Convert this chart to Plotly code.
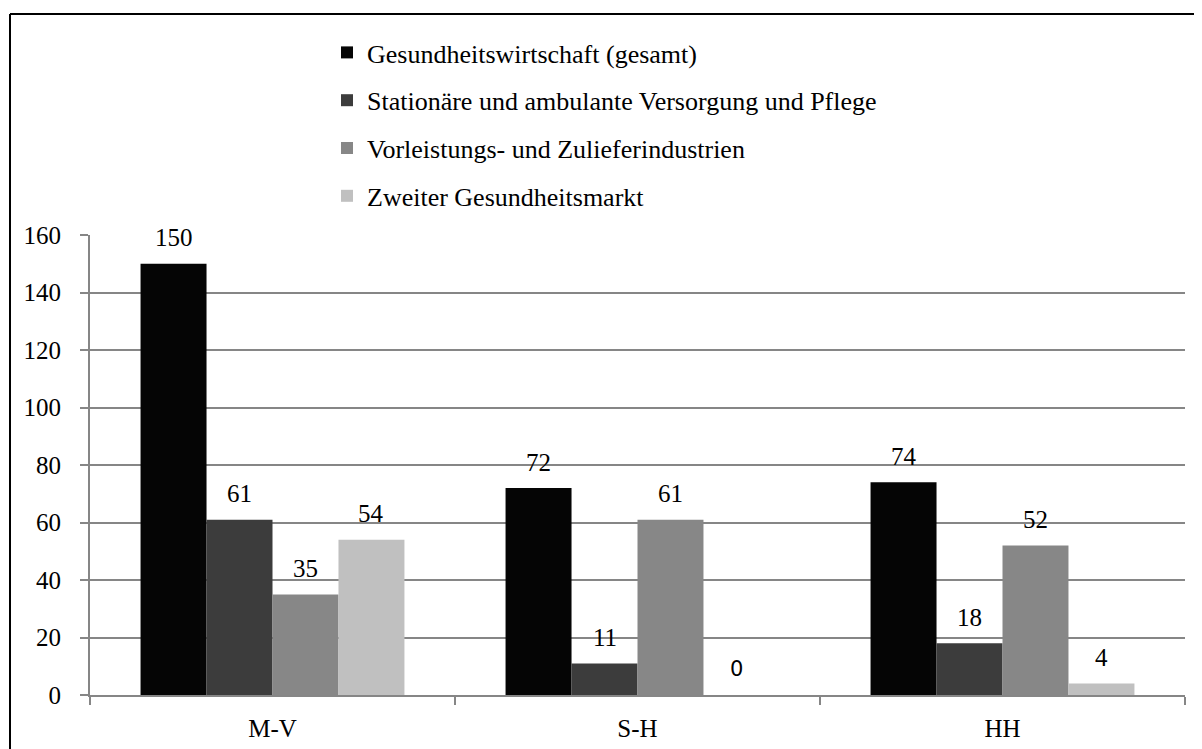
import plotly.graph_objects as go

categories = ["M-V", "S-H", "HH"]
series_names = [
    "Gesundheitswirtschaft (gesamt)",
    "Stationäre und ambulante Versorgung und Pflege",
    "Vorleistungs- und Zulieferindustrien",
    "Zweiter Gesundheitsmarkt",
]
gesamt = [150, 72, 74]
stationaer = [61, 11, 18]
vorleistung = [35, 61, 52]
zweiter = [54, 0, 4]
series_values = [gesamt, stationaer, vorleistung, zweiter]
y_ticks = [0, 20, 40, 60, 80, 100, 120, 140, 160]

colors = ["#050505", "#3c3c3c", "#878787", "#c0c0c0"]
SERIF = "Liberation Serif"
SANS = "DejaVu Sans"
BARGAP = 0.277

# page offset (body margin) compensation
OFF = 8
W, H = 1202 - OFF, 749 - OFF
ML, MR, MT, MB = 90 - OFF, 17, 235 - OFF, 54
PW = W - ML - MR
PH = H - MT - MB

fig = go.Figure()
for name, vals, col in zip(series_names, series_values, colors):
    fig.add_trace(go.Bar(
        x=categories, y=vals, name=name, legendgroup=name,
        marker=dict(color=col, line=dict(width=0)),
    ))

# data labels above bars
n = len(series_values)
bw = (1 - BARGAP) / n
for si, vals in enumerate(series_values):
    for ci, v in enumerate(vals):
        fam = SANS if v == 0 else SERIF
        fig.add_annotation(
            x=ci + (si - (n - 1) / 2) * bw, y=v, xref="x", yref="y",
            text=str(v), showarrow=False, yanchor="middle", yshift=26,
            font=dict(family=fam, size=25 if fam == SERIF else 21, color="black"),
        )

def px(xs):
    return (xs - OFF - ML) / PW

def py(ys):
    return (H - MB - (ys - OFF)) / PH

# outer frame (top and left edges visible)
fig.add_shape(type="line", xref="paper", yref="paper",
              x0=px(10), x1=px(1215), y0=py(14), y1=py(14),
              line=dict(color="black", width=2))
fig.add_shape(type="line", xref="paper", yref="paper",
              x0=px(10), x1=px(10), y0=py(14), y1=py(770),
              line=dict(color="black", width=2))

fig.update_layout(
    width=W, height=H,
    margin=dict(l=ML, r=MR, t=MT, b=MB, autoexpand=False),
    paper_bgcolor="white", plot_bgcolor="white",
    barmode="group", bargap=BARGAP, bargroupgap=0,
    font=dict(family=SERIF, size=25, color="black"),
    showlegend=True,
    legend=dict(
        x=px(327), y=py(29), xanchor="left", yanchor="top",
        traceorder="grouped", tracegroupgap=11,
        font=dict(family=SERIF, size=26, color="black"),
        bgcolor="rgba(0,0,0,0)", itemwidth=30,
    ),
    xaxis=dict(
        type="category", showline=True, linecolor="#868686", linewidth=2,
        ticks="outside", tickson="boundaries", ticklen=8, tickcolor="#868686",
        tickwidth=2, showgrid=False, ticklabelstandoff=10,
        tickfont=dict(family=SERIF, size=25, color="black"),
    ),
    yaxis=dict(
        range=[0, 160], tickvals=y_ticks, showline=True, linecolor="#868686",
        linewidth=2, ticks="outside", ticklen=8, tickcolor="#868686", tickwidth=2,
        showgrid=True, gridcolor="#868686", gridwidth=2, zeroline=False,
        ticklabelstandoff=14,
        tickfont=dict(family=SERIF, size=25, color="black"),
    ),
)

fig.write_html("out.html")
